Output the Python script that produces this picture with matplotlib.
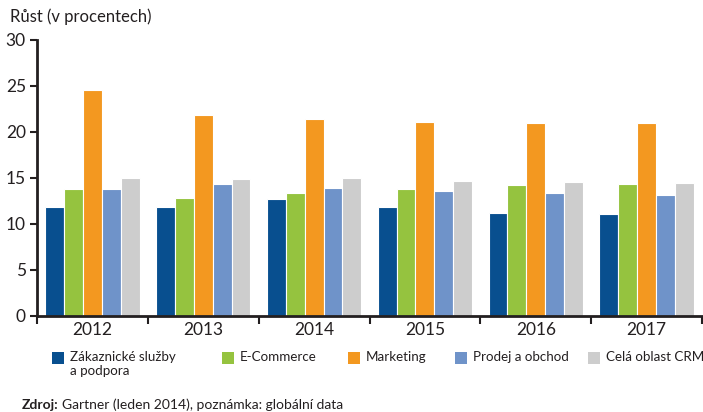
import matplotlib
matplotlib.use("Agg")
import matplotlib.pyplot as plt
from matplotlib.patches import Rectangle
import numpy as np

plt.rcParams['font.family'] = ['Lato', 'DejaVu Sans']

years = ["2012", "2013", "2014", "2015", "2016", "2017"]
series_names = ["Zákaznické služby\na podpora", "E-Commerce", "Marketing", "Prodej a obchod", "Celá oblast CRM"]
zakaznicke = [11.85, 11.8, 12.7, 11.8, 11.2, 11.1]
ecommerce = [13.8, 12.8, 13.4, 13.85, 14.2, 14.4]
marketing = [24.6, 21.8, 21.4, 21.1, 21.0, 21.0]
prodej = [13.8, 14.3, 13.95, 13.6, 13.4, 13.2]
crm = [15.05, 14.9, 15.05, 14.7, 14.6, 14.5]
colors = ["#084f8f", "#95c33f", "#f39820", "#6f93c9", "#cdcdcd"]
yticks = [0, 5, 10, 15, 20, 25, 30]

W, H = 703, 412
fig = plt.figure(figsize=(W / 100, H / 100), dpi=100)
ax = fig.add_axes([37 / W, (H - 316) / H, (702 - 37) / W, (316 - 40) / H])

data = [zakaznicke, ecommerce, marketing, prodej, crm]
x = np.arange(len(years))
bw = 0.17
for i, (vals, c) in enumerate(zip(data, colors)):
    ax.bar(x + (i - 2) * bw, vals, width=bw, color=c, edgecolor="white", linewidth=0.8, zorder=2)

ax.set_xlim(-0.5, len(years) - 0.5)
ax.set_ylim(0, 30)
ax.set_yticks(yticks)
ax.set_yticklabels([str(v) for v in yticks], fontsize=12.5, color="#231f20")
ax.set_xticks(x)
ax.set_xticklabels(years, fontsize=12.5, color="#231f20")
ax.set_xticks(np.arange(-0.5, len(years) + 0.5, 1), minor=True)
ax.tick_params(axis="x", which="major", length=0, pad=4)
ax.tick_params(axis="x", which="minor", length=6, width=1.5, color="#231f20", direction="out")
ax.tick_params(axis="y", length=5, width=1.5, color="#231f20", pad=3)
for s in ["top", "right"]:
    ax.spines[s].set_visible(False)
for s in ["left", "bottom"]:
    ax.spines[s].set_linewidth(2)
    ax.spines[s].set_color("#231f20")

fig.text(10 / W, 1 - 17 / H, "Růst (v procentech)", fontsize=12, color="#231f20", va="center", ha="left")

# legend
leg_x = [52, 222, 348, 455, 588]
for lx, c, name in zip(leg_x, colors, series_names):
    fig.add_artist(Rectangle((lx / W, 1 - 364 / H), 12 / W, 12 / H, transform=fig.transFigure,
                             facecolor=c, edgecolor="none"))
    fig.text((lx + 18) / W, 1 - 351 / H, name, fontsize=9.6, color="#231f20", va="top", ha="left",
             linespacing=1.2)

fig.text(22 / W, 1 - 405 / H, "Zdroj:", fontsize=10, fontweight="bold", color="#231f20", va="center", ha="left")
fig.text(62 / W, 1 - 405 / H, "Gartner (leden 2014), poznámka: globální data", fontsize=10, color="#231f20",
         va="center", ha="left")

fig.savefig("out.png", dpi=100)
